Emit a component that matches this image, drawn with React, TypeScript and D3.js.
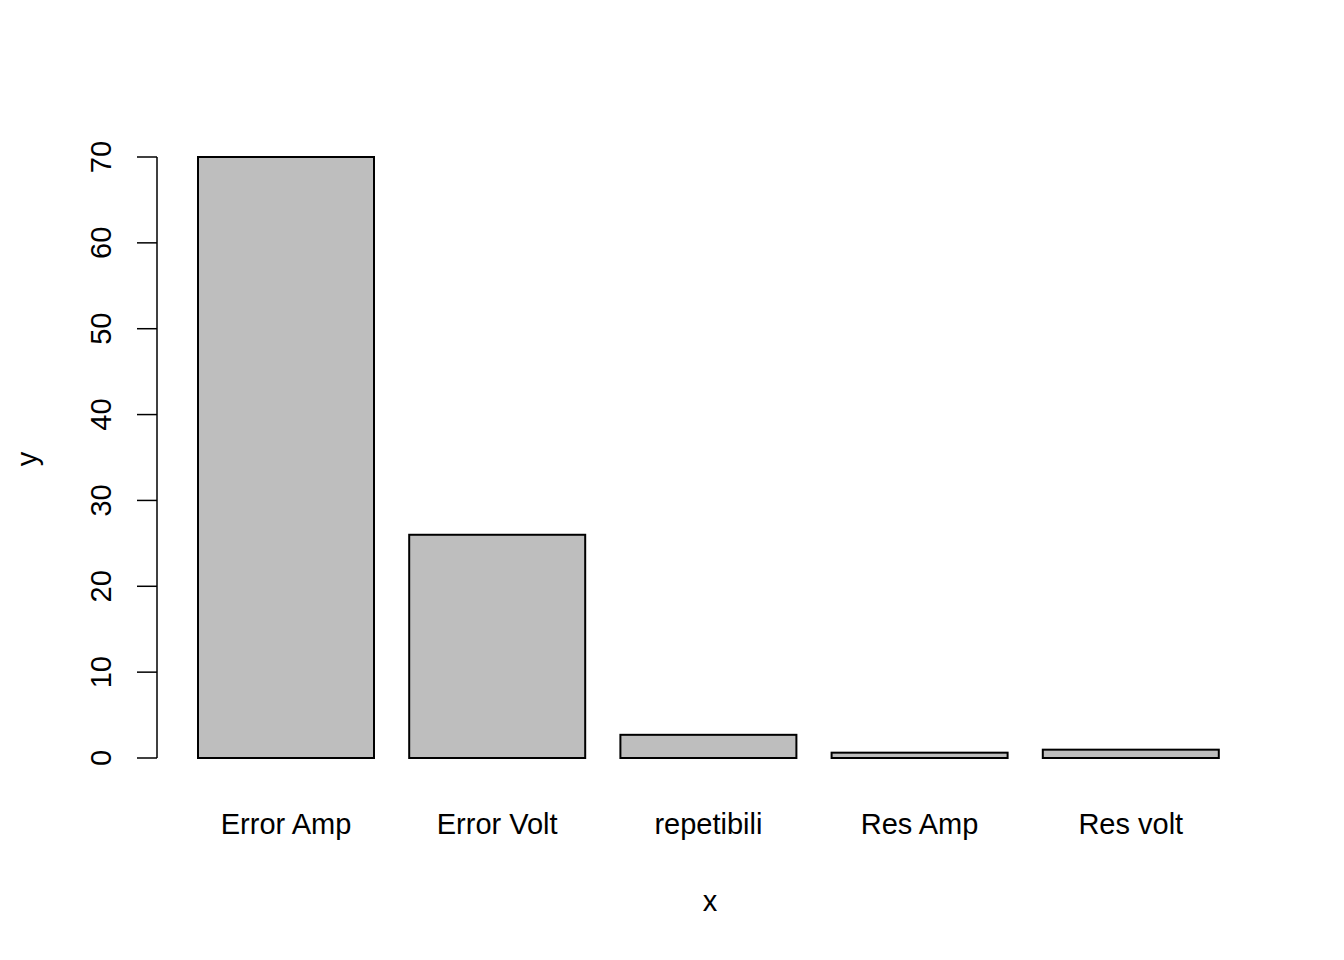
import * as d3 from 'd3'

const categories = ['Error Amp', 'Error Volt', 'repetibili', 'Res Amp', 'Res volt']
const values = [70, 26, 2.7, 0.62, 0.97]
const yTicks = [0, 10, 20, 30, 40, 50, 60, 70]

export default function App() {
  const width = 1344
  const height = 960
  const barWidth = 1
  const space = 0.2
  const x = d3.scaleLinear().domain([0.2, 6]).range([198, 1218.8])
  const y = d3.scaleLinear().domain([0, 70]).range([758, 157])
  const font = 'Liberation Sans, Arial, sans-serif'

  return (
    <svg width={width} height={height} style={{ position: 'absolute', left: 0, top: 0, background: '#fff' }} fontFamily={font}>
      {values.map((v, i) => {
        const x0 = space + i * (barWidth + space)
        return (
          <rect key={i} x={x(x0)} y={y(v)} width={x(x0 + barWidth) - x(x0)} height={y(0) - y(v)}
            fill="#bebebe" stroke="#000" strokeWidth={2} />
        )
      })}
      {categories.map((c, i) => {
        const cx = space + i * (barWidth + space) + barWidth / 2
        return (
          <text key={c} x={x(cx)} y={834} textAnchor="middle" fontSize={29}>{c}</text>
        )
      })}
      <line x1={157} x2={157} y1={y(0)} y2={y(70)} stroke="#000" strokeWidth={1.5} />
      {yTicks.map(t => (
        <g key={t}>
          <line x1={137} x2={157} y1={y(t)} y2={y(t)} stroke="#000" strokeWidth={1.5} />
          <text transform={`translate(111,${y(t)}) rotate(-90)`} textAnchor="middle" fontSize={29}>{t}</text>
        </g>
      ))}
      <text x={710} y={911} textAnchor="middle" fontSize={29}>x</text>
      <text transform="translate(37,459) rotate(-90)" textAnchor="middle" fontSize={29}>y</text>
    </svg>
  )
}
